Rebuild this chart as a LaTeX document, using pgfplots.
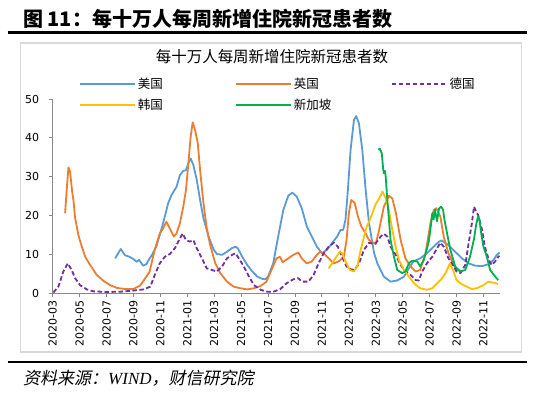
\documentclass[border=0pt]{standalone}
\usepackage{fontspec}
\usepackage{pgfplots}
\pgfplotsset{compat=1.18}
\setmainfont{DejaVu Sans}
\newfontfamily\cjk{Noto Sans CJK SC}
\newfontfamily\cjkit[FakeSlant=0.2]{Noto Sans CJK SC}
\newfontfamily\libserif{Liberation Serif}
\definecolor{cUS}{HTML}{5B9BD5}
\definecolor{cUK}{HTML}{ED7D31}
\definecolor{cDE}{HTML}{7030A0}
\definecolor{cKR}{HTML}{FFC000}
\definecolor{cSG}{HTML}{00B050}
\definecolor{axgray}{HTML}{898989}
\newcommand{\legtxt}[1]{\makebox[95pt][l]{#1}}
\begin{document}
\begin{tikzpicture}[x=1pt,y=1pt]
\fill[white] (0,0) rectangle (550,399);
\begin{axis}[
  at={(52.7pt,105.7pt)}, anchor=origin,
  scale only axis, width=447.3pt, height=194.3pt,
  xmin=0, xmax=33.23, ymin=0, ymax=50,
  axis x line*=bottom, axis y line*=left,
  axis line style={draw=axgray,line width=0.9pt,-},
  tick style={draw=axgray,line width=0.9pt},
  tick align=outside, major tick length=4pt,
  xtick={0,2,...,32},
  xticklabels={2020-03,2020-05,2020-07,2020-09,2020-11,2021-01,2021-03,2021-05,2021-07,2021-09,2021-11,2022-01,2022-03,2022-05,2022-07,2022-09,2022-11},
  ytick={0,10,...,50},
  /pgf/number format/assume math mode=true,
  ticklabel style={font=\fontsize{11}{13}\selectfont},
  xticklabel style={rotate=90,anchor=east},
  yticklabel style={xshift=-6pt},
  legend columns=3,
  legend cell align=left,
  legend style={draw=none,fill=none,at={(0.052,1.13)},anchor=north west,
    font=\cjk\fontsize{12.5}{15}\selectfont, row sep=5pt,
    /tikz/every even column/.append style={column sep=0pt}},
  legend image code/.code={\draw[#1] (0pt,0pt) -- (55pt,0pt);},
]
\addplot[cUS,line width=1.8pt,line join=round] coordinates {
(4.64,9.0) (5.06,11.4) (5.37,9.8) (5.7,9.4) (6.0,8.8) (6.23,8.1) (6.42,8.6) (6.72,7.1) (6.96,7.5) (7.2,9.0) (7.33,9.6) (7.7,12.0) (8.2,18.0) (8.58,23.2) (8.83,25.3) (9.2,27.4) (9.45,30.4) (9.7,31.5) (9.9,31.7) (10.08,33.5) (10.25,34.7) (10.45,33.0) (10.7,29.2) (10.95,24.0) (11.2,19.3) (11.58,14.6) (11.95,11.3) (12.2,10.1) (12.58,9.9) (12.95,10.7) (13.3,11.6) (13.58,12.0) (13.75,11.6) (14.08,9.4) (14.45,7.3) (14.83,5.6) (15.2,4.3) (15.58,3.7) (15.8,3.6) (16.0,4.3) (16.38,7.7) (16.75,14.6) (17.13,21.4) (17.5,25.1) (17.8,25.9) (18.13,24.9) (18.5,21.9) (18.88,17.2) (19.25,14.6) (19.63,12.0) (20.0,10.3) (20.38,11.2) (20.75,12.9) (21.13,14.6) (21.38,16.3) (21.58,16.3) (21.75,18.9) (21.93,26.6) (22.13,36.9) (22.38,44.6) (22.55,45.6) (22.75,43.7) (23.0,36.9) (23.25,26.6) (23.5,18.0) (23.88,10.3) (24.12,7.7) (24.6,4.3) (25.1,3.0) (25.6,3.3) (26.1,4.3) (26.46,6.4) (26.8,8.2) (27.3,9.0) (27.8,10.3) (28.3,12.0) (28.7,13.3) (28.9,13.6) (29.4,12.4) (29.9,10.7) (30.4,9.0) (30.9,7.7) (31.4,7.1) (31.9,7.0) (32.4,7.5) (32.75,8.6) (33.0,9.9) (33.2,10.5)
};
\addlegendentry{\legtxt{美国}}
\addplot[cUK,line width=1.8pt,line join=round] coordinates {
(0.92,20.6) (1.05,27) (1.17,32.4) (1.29,31.3) (1.45,26) (1.54,24.0) (1.66,19.5) (1.91,15.0) (2.03,13.5) (2.41,9.4) (2.78,7.3) (3.28,4.7) (3.77,3.2) (4.27,2.1) (4.76,1.4) (5.38,1.1) (6.0,1.1) (6.5,2.0) (7.0,4.5) (7.2,5.6) (7.58,11.2) (7.95,15.4) (8.2,16.7) (8.45,18.4) (8.7,16.7) (9.0,14.6) (9.2,15.4) (9.45,18.0) (9.7,22.3) (9.9,26.6) (10.08,33.5) (10.25,40.3) (10.4,44.0) (10.58,42.0) (10.78,38.6) (10.95,31.7) (11.2,23.2) (11.45,16.7) (11.7,12.4) (12.08,7.7) (12.45,5.2) (12.95,3.0) (13.45,1.7) (13.95,1.3) (14.45,1.0) (14.95,1.3) (15.45,1.9) (15.88,3.0) (16.25,6.0) (16.63,9.0) (16.88,9.4) (17.08,8.0) (17.38,8.7) (17.88,9.9) (18.25,10.5) (18.5,9.0) (18.88,7.7) (19.25,8.2) (19.63,9.9) (19.88,10.7) (20.13,10.3) (20.5,9.0) (20.88,7.7) (21.25,8.2) (21.63,9.4) (21.83,13.7) (22.0,20.6) (22.18,24.0) (22.43,23.3) (22.68,19.7) (22.93,17.2) (23.25,15.4) (23.5,13.7) (23.88,12.9) (24.0,12.7) (24.25,16.3) (24.6,22.3) (24.98,25.1) (25.23,24.4) (25.5,20.6) (25.85,13.7) (26.2,9.0) (26.6,6.9) (26.96,5.6) (27.3,6.0) (27.7,10.3) (28.06,18.0) (28.3,21.4) (28.5,21.9) (28.8,19.7) (29.05,14.6) (29.4,10.3) (29.8,7.3) (30.0,5.9) (30.3,5.8)
};
\addlegendentry{\legtxt{英国}}
\addplot[cDE,line width=1.8pt,line join=round,dash pattern=on 4.5pt off 2.5pt] coordinates {
(0.05,0.2) (0.42,1.7) (0.79,5.6) (1.12,7.7) (1.41,6.0) (1.66,3.9) (2.03,2.1) (2.53,1.0) (3.03,0.5) (4.02,0.35) (5.01,0.4) (6.0,0.7) (6.75,1.0) (7.25,1.7) (7.58,4.7) (7.95,7.7) (8.33,9.4) (8.7,10.1) (9.08,11.6) (9.33,13.3) (9.65,15.4) (9.9,13.7) (10.2,13.3) (10.45,13.7) (10.7,11.6) (11.08,9.0) (11.45,6.4) (11.83,6.0) (12.2,5.6) (12.58,6.9) (12.95,9.0) (13.33,9.9) (13.58,10.3) (13.83,9.0) (14.2,6.9) (14.58,4.3) (14.95,2.1) (15.45,0.9) (15.95,0.4) (16.38,0.4) (16.88,1.0) (17.38,2.6) (17.88,3.6) (18.25,3.9) (18.5,3.0) (19.0,3.0) (19.38,4.7) (19.75,7.7) (20.13,10.3) (20.5,12.0) (20.88,13.0) (21.18,12.0) (21.5,9.4) (21.83,6.9) (22.13,6.2) (22.43,6.0) (22.75,7.7) (23.13,11.2) (23.5,13.0) (23.88,12.7) (24.0,12.9) (24.37,14.6) (24.6,15.3) (24.86,14.6) (25.1,12.0) (25.48,9.9) (25.85,7.3) (26.2,5.6) (26.6,4.7) (26.96,3.4) (27.2,3.3) (27.45,5.6) (27.8,7.7) (28.2,9.4) (28.56,11.6) (28.8,13.0) (29.05,12.0) (29.4,9.0) (29.8,6.9) (30.0,5.6) (30.3,5.2) (30.65,7.3) (30.9,12.9) (31.14,18.0) (31.3,22.3) (31.46,21.0) (31.6,20.2) (31.9,16.3) (32.1,12.0) (32.4,8.6) (32.6,7.3) (32.87,8.2) (33.1,9.4) (33.2,9.6)
};
\addlegendentry{\legtxt{德国}}
\addplot[cKR,line width=1.8pt,line join=round] coordinates {
(20.5,6.4) (20.75,7.7) (21.08,9.4) (21.33,10.7) (21.5,10.3) (21.75,8.2) (22.08,6.0) (22.38,5.6) (22.63,6.9) (22.88,11.2) (23.13,14.6) (23.33,17.2) (23.5,18.4) (23.75,20.6) (24.0,23.0) (24.25,24.4) (24.5,26.2) (24.74,24.4) (24.98,21.4) (25.23,16.3) (25.48,12.0) (25.72,8.6) (26.1,6.0) (26.46,4.3) (26.83,2.6) (27.3,1.3) (27.8,0.9) (28.2,1.3) (28.56,2.6) (28.93,3.9) (29.25,5.6) (29.5,7.7) (29.74,6.0) (30.0,3.4) (30.4,2.3) (30.77,1.7) (31.14,1.1) (31.5,1.3) (32.0,2.1) (32.37,3.0) (32.75,2.7) (33.1,2.4)
};
\addlegendentry{\legtxt{韩国}}
\addplot[cSG,line width=1.8pt,line join=round] coordinates {
(24.2,36.9) (24.3,37.2) (24.45,36.0) (24.55,32.0) (24.6,30.9) (24.68,31.5) (24.74,30.0) (24.86,24.0) (24.98,18.9) (25.1,13.7) (25.35,9.4) (25.6,6.0) (25.97,5.2) (26.2,5.6) (26.46,7.7) (26.7,8.4) (27.08,8.2) (27.3,6.9) (27.57,8.6) (27.94,13.3) (28.1,17.5) (28.2,20.6) (28.3,19.0) (28.4,21.5) (28.55,18.5) (28.7,21.8) (28.85,22.3) (29.0,21.5) (29.1,19.0) (29.25,16.3) (29.54,11.2) (29.9,6.9) (30.28,5.6) (30.65,6.0) (31.0,9.4) (31.3,14.0) (31.45,17.5) (31.6,19.8) (31.7,19.0) (31.85,15.0) (32.0,12.0) (32.25,9.4) (32.5,6.0) (32.87,4.3) (33.1,3.4)
};
\addlegendentry{\legtxt{新加坡}}
\end{axis}
\node[anchor=west,inner sep=0,font=\cjk\bfseries\fontsize{20}{24}\selectfont] at (23,380) {图 11：每十万人每周新增住院新冠患者数};
\draw[line width=2.5pt] (7.7,366.3) -- (526.6,366.3);
\draw[line width=1.2pt,color=black!15] (20.7,47) rectangle (521.7,356);
\node[inner sep=0,font=\cjk\fontsize{15.5}{18}\selectfont] at (272,342) {每十万人每周新增住院新冠患者数};
\draw[line width=2pt] (7.7,37) -- (526.6,37);
\node[anchor=west,inner sep=0,font=\cjkit\fontsize{17}{20}\selectfont] at (23,21) {资料来源：{\libserif\itshape WIND}，财信研究院};
\pgfresetboundingbox
\useasboundingbox (0,0) rectangle (550,399);
\end{tikzpicture}
\end{document}
